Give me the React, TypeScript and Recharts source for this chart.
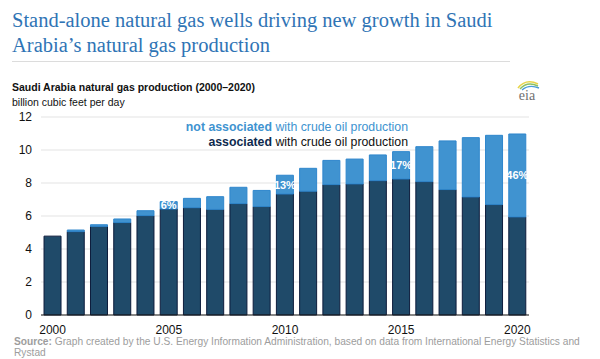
import React from "react";
import {
  BarChart,
  Bar,
  XAxis,
  YAxis,
  CartesianGrid,
  LabelList,
  Legend,
} from "recharts";

const years = [
  "2000", "2001", "2002", "2003", "2004", "2005", "2006", "2007", "2008", "2009", "2010",
  "2011", "2012", "2013", "2014", "2015", "2016", "2017", "2018", "2019", "2020",
];
// billion cubic feet per day
const associated = [
  4.78, 5.05, 5.37, 5.6, 6.02, 6.42, 6.5, 6.4, 6.75, 6.57, 7.33,
  7.5, 7.9, 7.94, 8.14, 8.24, 8.08, 7.6, 7.15, 6.69, 5.94,
];
const notAssociated = [
  0, 0.1, 0.1, 0.22, 0.3, 0.45, 0.57, 0.77, 0.99, 0.98, 1.14,
  1.39, 1.47, 1.51, 1.56, 1.66, 2.12, 2.95, 3.6, 4.2, 5.03,
];
const shareLabels = [
  "", "", "", "", "", "6%", "", "", "", "", "13%",
  "", "", "", "", "17%", "", "", "", "", "46%",
];
const yTicks = [0, 2, 4, 6, 8, 10, 12];

const data = years.map((year, i) => ({
  year,
  associated: associated[i],
  notAssociated: notAssociated[i],
  share: shareLabels[i],
}));

const DARK = "#1f4a69";
const LIGHT = "#4093d0";
const sans = "'Liberation Sans', Arial, sans-serif";

function LegendBox() {
  return (
    <div
      style={{
        position: "absolute",
        left: 0,
        top: 0,
        width: 408,
        textAlign: "right",
        fontFamily: sans,
        fontSize: 12.3,
        lineHeight: "15px",
      }}
    >
      <div style={{ color: LIGHT }}>
        <b>not associated</b> with crude oil production
      </div>
      <div style={{ color: "#111" }}>
        <b style={{ color: "#0e2a4e" }}>associated</b> with crude oil production
      </div>
    </div>
  );
}

function EiaLogo() {
  return (
    <svg
      width={30}
      height={30}
      style={{ position: "absolute", left: 512, top: 76 }}
    >
      <path d="M6 12 Q14 2 26 8" stroke="#e8d44a" strokeWidth={1.6} fill="none" />
      <path d="M8 13 Q15 5 26 10" stroke="#8cc063" strokeWidth={1.4} fill="none" />
      <path d="M10 14 Q17 8 27 12" stroke="#4a9bd6" strokeWidth={1.4} fill="none" />
      <text
        x={15}
        y={24}
        textAnchor="middle"
        fontFamily="'Liberation Serif', serif"
        fontSize={14}
        fill="#6f6f6f"
      >
        eia
      </text>
    </svg>
  );
}

export default function App() {
  return (
    <div
      style={{
        position: "absolute",
        left: 0,
        top: 0,
        width: 600,
        height: 359,
        background: "#fff",
        overflow: "hidden",
      }}
    >
      <div
        style={{
          position: "absolute",
          left: 12,
          top: 8,
          fontFamily: "'Liberation Serif', 'Times New Roman', serif",
          fontSize: 20.5,
          lineHeight: "25px",
          color: "#2f74b5",
        }}
      >
        Stand-alone natural gas wells driving new growth in Saudi
        <br />
        Arabia’s natural gas production
      </div>
      <div
        style={{
          position: "absolute",
          left: 12,
          top: 61,
          width: 498,
          height: 1,
          background: "#dcdcdc",
        }}
      />
      <div
        style={{
          position: "absolute",
          left: 12,
          top: 80,
          fontFamily: sans,
          fontSize: 10.5,
          lineHeight: "15px",
          color: "#111",
        }}
      >
        <b>Saudi Arabia natural gas production (2000–2020)</b>
        <br />
        billion cubic feet per day
      </div>
      <EiaLogo />

      <BarChart
        width={600}
        height={359}
        data={data}
        margin={{ top: 117, right: 71, left: 0, bottom: 14 }}
        barCategoryGap="13%"
        style={{ position: "absolute", left: 0, top: 0 }}
      >
        <CartesianGrid vertical={false} stroke="#e3e3e3" />
        <XAxis
          dataKey="year"
          interval={4}
          height={30}
          tickLine={false}
          tickSize={0}
          tickMargin={10}
          axisLine={{ stroke: "#1a1a1a" }}
          tick={{ fill: "#111", fontSize: 12, fontFamily: sans }}
        />
        <YAxis
          width={41}
          domain={[0, 12]}
          ticks={yTicks}
          axisLine={false}
          tickLine={false}
          tickSize={0}
          tickMargin={9}
          tick={{ fill: "#111", fontSize: 12, fontFamily: sans }}
        />
        <Legend
          verticalAlign="top"
          content={() => <LegendBox />}
          wrapperStyle={{ position: "absolute", left: 0, top: 120, width: 600 }}
        />
        <Bar
          dataKey="associated"
          stackId="gas"
          fill={DARK}
          stroke="#0d1c3c"
          strokeWidth={1}
          isAnimationActive={false}
        />
        <Bar
          dataKey="notAssociated"
          stackId="gas"
          fill={LIGHT}
          stroke="#2e86cc"
          strokeWidth={1}
          isAnimationActive={false}
        >
          <LabelList
            dataKey="share"
            position="center"
            fill="#fff"
            fontSize={11}
            fontWeight="bold"
            fontFamily={sans}
          />
        </Bar>
      </BarChart>

      <div
        style={{
          position: "absolute",
          left: 14,
          top: 337,
          fontFamily: sans,
          fontSize: 10.2,
          lineHeight: "10.5px",
          color: "#9d9d9d",
          whiteSpace: "nowrap",
        }}
      >
        <b>Source:</b> Graph created by the U.S. Energy Information Administration, based on data
        from International Energy Statistics and
        <br />
        Rystad
      </div>
    </div>
  );
}
